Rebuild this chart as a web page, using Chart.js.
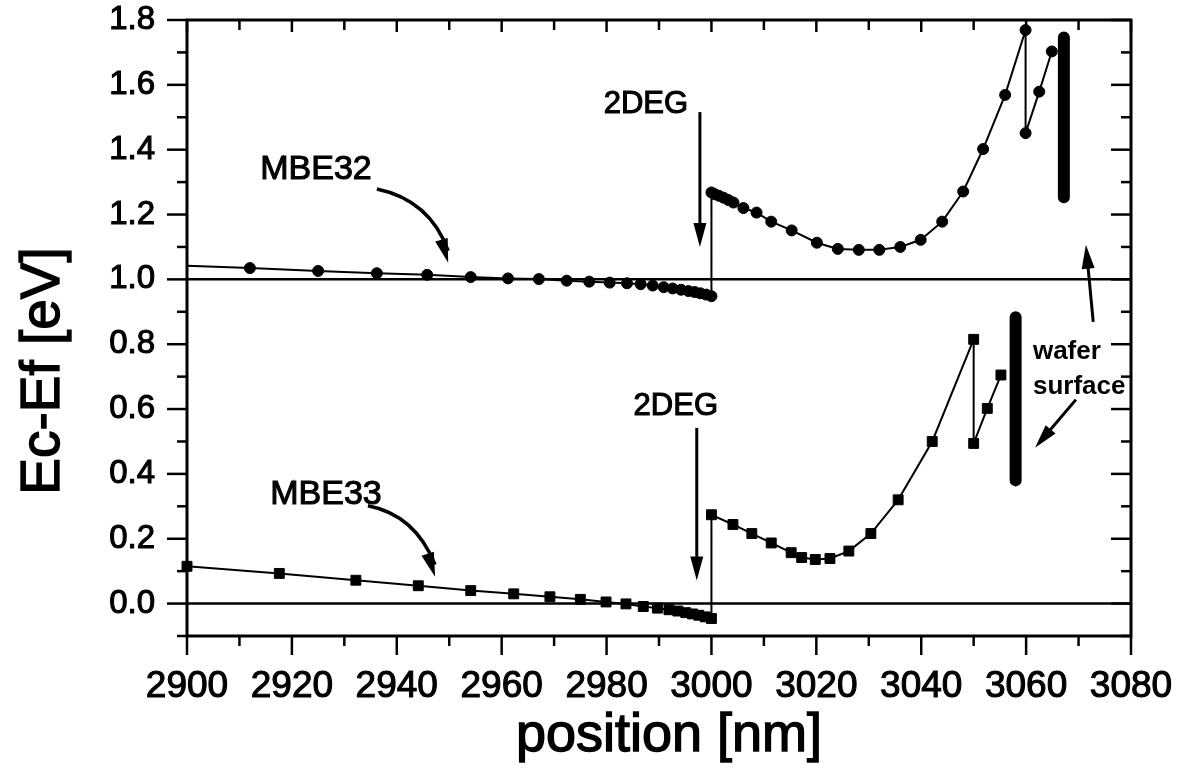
<!DOCTYPE html>
<html><head><meta charset="utf-8">
<script src="https://cdn.jsdelivr.net/npm/chart.js@4.4.0/dist/chart.umd.min.js"></script>
<style>html,body{margin:0;padding:0;background:#fff;} #wrap{width:1178px;height:775px;}</style>
</head><body><div id="wrap"><canvas id="c" width="1178" height="775"></canvas></div>
<script>
const FONT = "'Liberation Sans', Arial, Helvetica, sans-serif";

// ---- data (position in nm, Ec-Ef in eV) ----
const mbe32X = [2900, 2912, 2925, 2936.2, 2945.8, 2954.1, 2961.2, 2967.1, 2972.4, 2976.7, 2980.6, 2983.9, 2986.5, 2988.8, 2990.9, 2992.6, 2994.2, 2995.6, 2996.8, 2997.9, 2999.0, 3000.0,
  3000.0, 3000.6, 3001.4, 3002.3, 3003.2, 3004.2, 3006.1, 3008.6, 3011.4, 3015.3, 3020.1, 3024.1, 3028.1, 3032.0, 3036.0, 3039.9, 3044.0, 3048.0, 3051.8, 3056.0, 3059.9, 3059.9, 3062.5, 3064.9];
const mbe32Y = [1.042, 1.035, 1.026, 1.019, 1.014, 1.007, 1.003, 1.001, 0.996, 0.993, 0.990, 0.988, 0.985, 0.981, 0.976, 0.972, 0.968, 0.964, 0.961, 0.957, 0.953, 0.948,
  1.268, 1.263, 1.258, 1.252, 1.245, 1.237, 1.220, 1.206, 1.178, 1.151, 1.113, 1.094, 1.091, 1.091, 1.100, 1.122, 1.178, 1.271, 1.402, 1.569, 1.769, 1.451, 1.579, 1.703];

const mbe33X = [2900, 2917.6, 2932.2, 2944.1, 2954.1, 2962.3, 2969.2, 2975.0, 2979.9, 2983.7, 2987.0, 2989.7, 2991.9, 2993.6, 2995.1, 2996.4, 2997.6, 2998.8, 3000.0,
  3000.0, 3004.1, 3007.7, 3011.4, 3015.2, 3017.2, 3019.8, 3022.6, 3026.2, 3030.4, 3035.6, 3042.1, 3050.0, 3050.0, 3052.6, 3055.2];
const mbe33Y = [0.115, 0.093, 0.072, 0.055, 0.040, 0.030, 0.021, 0.013, 0.005, -0.001, -0.009, -0.014, -0.019, -0.023, -0.028, -0.032, -0.036, -0.041, -0.046,
  0.274, 0.244, 0.216, 0.187, 0.157, 0.142, 0.136, 0.139, 0.162, 0.216, 0.320, 0.500, 0.815, 0.494, 0.602, 0.705];

const refLevels = [1.0, 0.0];          // horizontal reference lines
const refSpan = [2900, 3080];

const waferUpperX = [3067.2, 3067.2];
const waferUpperY = [1.746, 1.253];
const waferLowerX = [3058.0, 3058.0];
const waferLowerY = [0.883, 0.380];

// ---- ticks ----
const xTickValues = [2900, 2920, 2940, 2960, 2980, 3000, 3020, 3040, 3060, 3080];
const xMinorTicks = [2910, 2930, 2950, 2970, 2990, 3010, 3030, 3050, 3070];
const yTickValues = [0.0, 0.2, 0.4, 0.6, 0.8, 1.0, 1.2, 1.4, 1.6, 1.8];
const yMinorTicks = [-0.1, 0.1, 0.3, 0.5, 0.7, 0.9, 1.1, 1.3, 1.5, 1.7];

// ---- annotations (in data coordinates) ----
const textNotes = [
  {text: '2DEG', x: 2987.5, y: 1.541, size: 31},
  {text: '2DEG', x: 2993.2, y: 0.607, size: 31},
  {text: 'MBE32', x: 2924.6, y: 1.338, size: 34},
  {text: 'MBE33', x: 2926.5, y: 0.336, size: 34},
];
const waferText = [
  {text: 'wafer', x: 3061.3, y: 0.755},
  {text: 'surface', x: 3061.3, y: 0.645},
];
const straightArrows = [
  {x1: 2997.8, y1: 1.516, x2: 2997.8, y2: 1.100},
  {x1: 2997.2, y1: 0.542, x2: 2997.2, y2: 0.071},
  {x1: 3072.8, y1: 0.869, x2: 3071.4, y2: 1.107},
  {x1: 3069.5, y1: 0.629, x2: 3061.7, y2: 0.481},
];
const curvedArrows = [
  {x1: 2936.2, y1: 1.279, cx: 2946.3, cy: 1.245, x2: 2949.8, y2: 1.051},
  {x1: 2934.5, y1: 0.302, cx: 2943.5, cy: 0.274, x2: 2947.3, y2: 0.083},
];

const pts = (xs, ys) => xs.map((v, i) => ({x: v, y: ys[i]}));

function arrowHead(ctx, fx, fy, tx, ty, len, hw) {
  const ang = Math.atan2(ty - fy, tx - fx);
  const bx = tx - len * Math.cos(ang), by = ty - len * Math.sin(ang);
  const nx = -Math.sin(ang) * hw, ny = Math.cos(ang) * hw;
  ctx.beginPath();
  ctx.moveTo(tx, ty);
  ctx.lineTo(bx + nx, by + ny);
  ctx.lineTo(bx - nx, by - ny);
  ctx.closePath();
  ctx.fill();
}

function heavyText(ctx, s, X, Y) {
  ctx.fillText(s, X, Y);
  ctx.strokeText(s, X, Y);
}

const framePlugin = {
  id: 'frame',
  afterDatasetsDraw(chart) {
    const {ctx, chartArea: a, scales: {x, y}} = chart;
    ctx.save();
    ctx.strokeStyle = '#000';
    ctx.fillStyle = '#000';
    ctx.lineWidth = 3;
    ctx.strokeRect(a.left, a.top, a.right - a.left, a.bottom - a.top);
    ctx.lineWidth = 2.5;
    const seg = (x1, y1, x2, y2) => { ctx.beginPath(); ctx.moveTo(x1, y1); ctx.lineTo(x2, y2); ctx.stroke(); };
    yTickValues.forEach(v => { const p = y.getPixelForValue(v); seg(a.left - 20, p, a.left, p); seg(a.right - 20, p, a.right, p); });
    yMinorTicks.forEach(v => { const p = y.getPixelForValue(v); seg(a.left - 10, p, a.left, p); seg(a.right - 10, p, a.right, p); });
    xTickValues.forEach(v => { const p = x.getPixelForValue(v); seg(p, a.bottom, p, a.bottom + 19); seg(p, a.top, p, a.top + 12); });
    xMinorTicks.forEach(v => { const p = x.getPixelForValue(v); seg(p, a.bottom, p, a.bottom + 10); seg(p, a.top, p, a.top + 10); });

    // text notes
    ctx.lineWidth = 1.1;
    ctx.textBaseline = 'middle';
    ctx.textAlign = 'center';
    textNotes.forEach(t => {
      ctx.font = `${t.size}px ${FONT}`;
      heavyText(ctx, t.text, x.getPixelForValue(t.x), y.getPixelForValue(t.y));
    });
    ctx.textBaseline = 'alphabetic';
    ctx.textAlign = 'left';
    ctx.font = `bold 26px ${FONT}`;
    waferText.forEach(t => ctx.fillText(t.text, x.getPixelForValue(t.x), y.getPixelForValue(t.y)));

    // arrows
    ctx.lineWidth = 3;
    straightArrows.forEach(ar => {
      const X1 = x.getPixelForValue(ar.x1), Y1 = y.getPixelForValue(ar.y1);
      const X2 = x.getPixelForValue(ar.x2), Y2 = y.getPixelForValue(ar.y2);
      const ang = Math.atan2(Y2 - Y1, X2 - X1);
      seg(X1, Y1, X2 - 18 * Math.cos(ang), Y2 - 18 * Math.sin(ang));
      arrowHead(ctx, X1, Y1, X2, Y2, 24, 6.5);
    });
    ctx.lineWidth = 3.5;
    curvedArrows.forEach(ar => {
      const X1 = x.getPixelForValue(ar.x1), Y1 = y.getPixelForValue(ar.y1);
      const CX = x.getPixelForValue(ar.cx), CY = y.getPixelForValue(ar.cy);
      const X2 = x.getPixelForValue(ar.x2), Y2 = y.getPixelForValue(ar.y2);
      ctx.beginPath(); ctx.moveTo(X1, Y1); ctx.quadraticCurveTo(CX, CY, X2, Y2 - 12); ctx.stroke();
      arrowHead(ctx, CX, CY, X2, Y2, 24, 6.5);
    });

    // axis titles
    ctx.lineWidth = 1.4;
    ctx.font = `54px ${FONT}`;
    ctx.textAlign = 'center';
    ctx.textBaseline = 'middle';
    heavyText(ctx, 'position [nm]', (a.left + a.right) / 2 + 10, 736);
    ctx.save();
    ctx.translate(59, 371);
    ctx.rotate(-Math.PI / 2);
    ctx.textBaseline = 'alphabetic';
    ctx.font = `55px ${FONT}`;
    heavyText(ctx, 'Ec-Ef [eV]', 0, 0);
    ctx.restore();
    ctx.restore();
  }
};

const lineDs = (data, extra) => Object.assign({
  data, borderColor: '#000', backgroundColor: '#000', borderWidth: 2,
  pointRadius: 0, tension: 0, clip: false
}, extra);

new Chart(document.getElementById('c'), {
  type: 'line',
  data: {
    datasets: [
      ...refLevels.map(l => lineDs(refSpan.map(v => ({x: v, y: l})), {borderWidth: 2.5})),
      lineDs(pts(mbe32X, mbe32Y), {pointStyle: 'circle', pointRadius: c => c.dataIndex === 0 ? 0 : 5.5, pointBorderWidth: 1, pointBackgroundColor: '#000', pointBorderColor: '#000'}),
      lineDs(pts(mbe33X, mbe33Y), {pointStyle: 'rect', pointRadius: 7, pointBorderWidth: 1, pointBackgroundColor: '#000', pointBorderColor: '#000'}),
      lineDs(pts(waferUpperX, waferUpperY), {borderWidth: 12, borderCapStyle: 'round'}),
      lineDs(pts(waferLowerX, waferLowerY), {borderWidth: 12, borderCapStyle: 'round'}),
    ]
  },
  options: {
    responsive: false,
    animation: false,
    events: [],
    layout: {padding: {top: 20, right: 47, left: 0, bottom: 0}},
    plugins: {legend: {display: false}, tooltip: {enabled: false}},
    scales: {
      x: {
        type: 'linear', min: 2900, max: 3080, position: 'bottom',
        grid: {display: false, drawTicks: true, tickLength: 29}, border: {display: false},
        afterBuildTicks: s => { s.ticks = xTickValues.map(v => ({value: v})); },
        afterFit: s => { s.height = 139; },
        ticks: {color: '#000', padding: 0, maxRotation: 0, autoSkip: false, textStrokeColor: '#000', textStrokeWidth: 1.1,
          font: {family: FONT, size: 37}, callback: v => String(v)}
      },
      y: {
        type: 'linear', min: -0.1, max: 1.8,
        grid: {display: false, drawTicks: true, tickLength: 32}, border: {display: false},
        afterBuildTicks: s => { s.ticks = yTickValues.map(v => ({value: v})); },
        afterFit: s => { s.width = 187; },
        ticks: {color: '#000', padding: 0, autoSkip: false, textStrokeColor: '#000', textStrokeWidth: 1.1,
          font: {family: FONT, size: 33}, callback: v => Number(v).toFixed(1)}
      }
    }
  },
  plugins: [framePlugin]
});
</script>
</body></html>
